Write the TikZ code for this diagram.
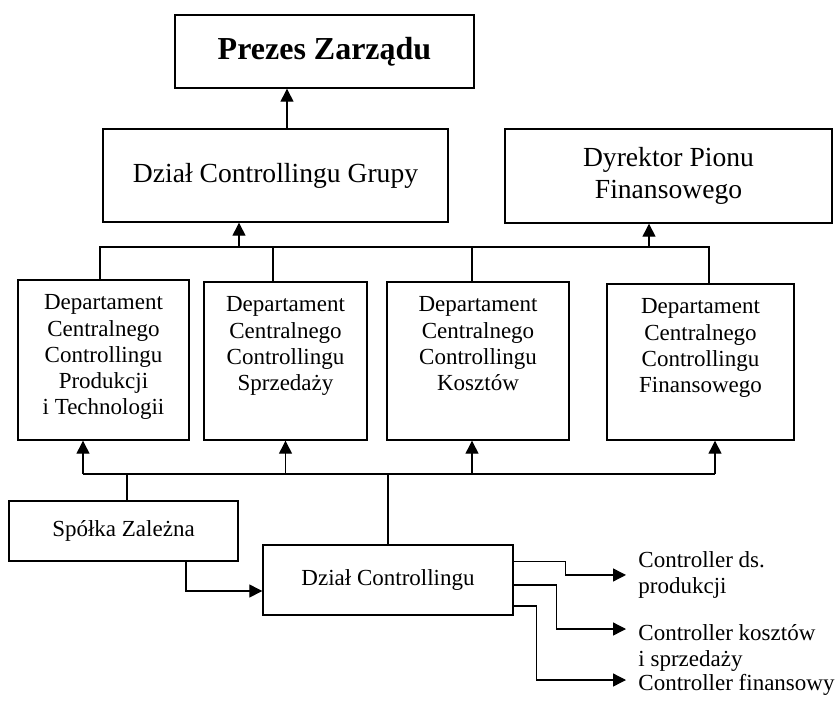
\documentclass[tikz,border=0pt]{standalone}
\usepackage{fontspec}
\setmainfont{Liberation Serif}
\usepackage{tikz}
\usetikzlibrary{arrows.meta,positioning}

\begin{document}
\begin{tikzpicture}[
    x=0.5pt, y=-0.5pt,
    box/.style={rectangle, draw, line width=0.7pt, inner sep=0pt, align=center, font=\fontsize{13.8}{15.85}\selectfont},
    small/.style={box, font=\fontsize{11.5}{13.15}\selectfont},
    depttext/.style={inner sep=0pt, align=center, font=\fontsize{11.5}{13.15}\selectfont},
    ctrl/.style={inner sep=0pt, align=left, anchor=north west, font=\fontsize{11.5}{13.15}\selectfont},
    line/.style={line width=0.65pt},
    arr/.style={line, -{Triangle[length=6.5pt, width=6.5pt]}},
]
    \useasboundingbox (0,0) rectangle (838,700);

    % top level
    \node[box, font=\fontsize{16}{19}\selectfont\bfseries, minimum width=149.5pt, minimum height=36.5pt] (prezes) at (324.5,51.5) {Prezes Zarządu};
    \node[box, minimum width=172.5pt, minimum height=46.5pt] (grupy) at (275.5,175.5) {Dział Controllingu Grupy};
    \node[box, minimum width=163.5pt, minimum height=47pt] (dyrektor) at (668.5,176) {Dyrektor Pionu\\Finansowego};

    % departments
    \node[box, minimum width=85.5pt, minimum height=80pt] (dep1) at (103.5,360) {};
    \node[box, minimum width=81.5pt, minimum height=79pt] (dep2) at (285.5,361) {};
    \node[box, minimum width=91pt, minimum height=79pt] (dep3) at (478,361) {};
    \node[box, minimum width=93.5pt, minimum height=78pt] (dep4) at (700.5,362) {};
    \node[depttext, below=7.5pt of dep1.north] (dep1-txt) {Departament\\Centralnego\\Controllingu\\Produkcji\\i Technologii};
    \node[depttext, below=7.5pt of dep2.north] (dep2-txt) {Departament\\Centralnego\\Controllingu\\Sprzedaży};
    \node[depttext, below=7.5pt of dep3.north] (dep3-txt) {Departament\\Centralnego\\Controllingu\\Kosztów};
    \node[depttext, below=7.5pt of dep4.north] (dep4-txt) {Departament\\Centralnego\\Controllingu\\Finansowego};

    % bottom level
    \node[small, minimum width=114.5pt, minimum height=30pt] (spolka) at (123.5,531) {Spółka Zależna};
    \node[small, minimum width=125pt, minimum height=35pt] (dzial) at (388,580) {Dział Controllingu};

    % controllers
    \node[ctrl] (ctrl1) at (638,551) {Controller ds.\\produkcji};
    \node[ctrl] (ctrl2) at (638,624) {Controller kosztów\\i sprzedaży};
    \node[ctrl] (ctrl3) at (638,674) {Controller finansowy};

    % upper bus
    \coordinate (bus-top) at (0,247);
    \draw[arr] ([xshift=5.75pt]grupy.north) -- ([xshift=5.75pt]grupy.north |- prezes.south);
    \draw[line] ([xshift=-1.75pt]dep1.north) -- ([xshift=-1.75pt]dep1.north |- bus-top) -- ([xshift=4.25pt]dep4.north |- bus-top) -- ([xshift=4.25pt]dep4.north);
    \draw[line] ([xshift=-6.25pt]dep2.north) -- ([xshift=-6.25pt]dep2.north |- bus-top);
    \draw[line] ([xshift=-3pt]dep3.north) -- ([xshift=-3pt]dep3.north |- bus-top);
    \draw[arr] ([xshift=-18.25pt]grupy.south |- bus-top) -- ([xshift=-18.25pt]grupy.south);
    \draw[arr] ([xshift=-9.75pt]dyrektor.south |- bus-top) -- ([xshift=-9.75pt]dyrektor.south);

    % lower bus
    \coordinate (bus-low) at (0,474);
    \draw[line] ([xshift=-10.25pt]dep1.south |- bus-low) -- ([xshift=7.25pt]dep4.south |- bus-low);
    \draw[arr] ([xshift=-10.25pt]dep1.south |- bus-low) -- ([xshift=-10.25pt]dep1.south);
    \draw[arr] (dep2.south |- bus-low) -- (dep2.south);
    \draw[arr] ([xshift=-3pt]dep3.south |- bus-low) -- ([xshift=-3pt]dep3.south);
    \draw[arr] ([xshift=7.25pt]dep4.south |- bus-low) -- ([xshift=7.25pt]dep4.south);
    \draw[line] ([xshift=1.75pt]spolka.north) -- ([xshift=1.75pt]spolka.north |- bus-low);
    \draw[line] (dzial.north) -- (dzial.north |- bus-low);

    % Spolka -> Dzial -> controllers
    \draw[arr] ([xshift=31.25pt]spolka.south) |- ([yshift=-5.5pt]dzial.west);
    \draw[arr] ([yshift=9.25pt]dzial.east) -- ++(26pt,0) |- ([xshift=-6pt]ctrl1.west);
    \draw[arr] ([yshift=-2.5pt]dzial.east) -- ++(21.5pt,0) |- ([xshift=-6pt,yshift=-2.5pt]ctrl2.north west);
    \draw[arr] ([yshift=-13pt]dzial.east) -- ++(11.5pt,0) |- ([xshift=-6pt,yshift=-3pt]ctrl3.north west);

\end{tikzpicture}
\end{document}
